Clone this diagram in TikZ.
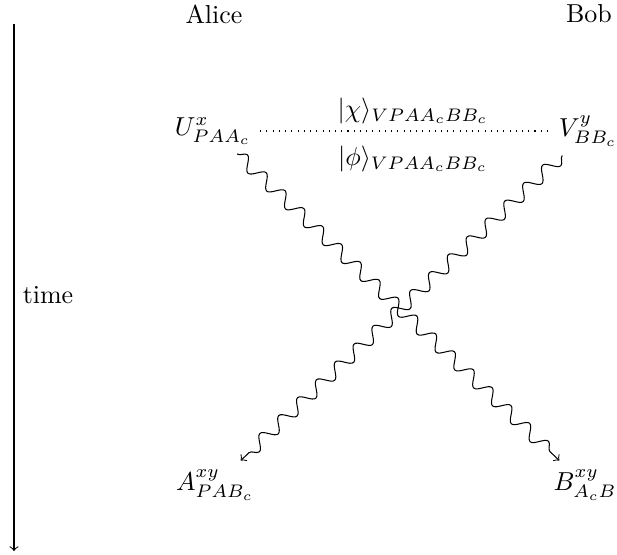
\documentclass[tikz,border=0pt]{standalone}
\usetikzlibrary{decorations.pathmorphing}
\begin{document}
\begin{tikzpicture}[x=0.385pt,y=-0.385pt,
  party/.style={inner sep=1pt},
  op/.style={inner sep=3.33pt},
  wave/.style={->,decorate,decoration={snake,amplitude=2.5pt,segment length=10pt,post length=1pt}},
  tag/.style={inner sep=1pt}]
  \useasboundingbox (0,0) rectangle (617,554);
  % parties
  \node[party] (alice) at (214,14) {Alice};
  \node[party] (bob) at (589,14) {Bob};
  % time axis
  \coordinate (t0) at (14,24);
  \coordinate (t1) at (14,551);
  \draw[->] (t0) -- (t1);
  \node (time) at (48,295) {time};
  % operations
  \node[op] (U) at (213,131) {$U^x_{PAA_c}$};
  \node[op] (V) at (588,131) {$V^y_{BB_c}$};
  \node[op] (A) at (215,485) {$A^{xy}_{PAB_c}$};
  \node[op] (B) at (585,485) {$B^{xy}_{A_cB}$};
  % shared state
  \draw[dotted] (U) -- (V);
  \node[tag] (chi) at (413,111) {$|\chi\rangle_{VPAA_cBB_c}$};
  \node[tag] (phi) at (413,159) {$|\phi\rangle_{VPAA_cBB_c}$};
  % signals
  \draw[wave] (U) -- (B);
  \draw[wave] (V) -- (A);
\end{tikzpicture}
\end{document}
